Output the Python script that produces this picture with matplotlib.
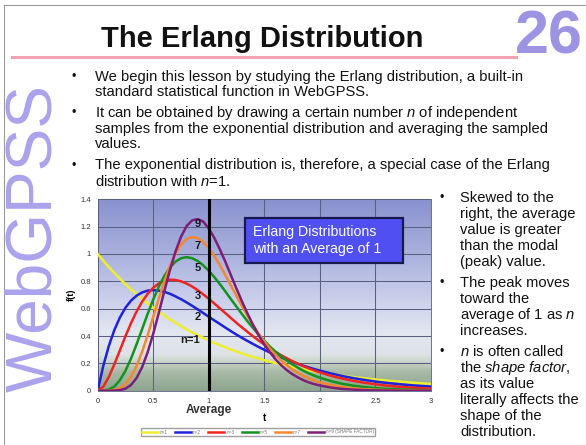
import numpy as np
import matplotlib
matplotlib.use('Agg')
from matplotlib import pyplot as plt
from matplotlib.colors import LinearSegmentedColormap
from matplotlib.patches import Rectangle
from matplotlib.transforms import blended_transform_factory

plt.rcParams['font.family'] = ['Liberation Sans', 'DejaVu Sans']
plt.rcParams['mathtext.fontset'] = 'custom'
plt.rcParams['mathtext.rm'] = 'Liberation Sans'
plt.rcParams['mathtext.it'] = 'Liberation Sans:italic'

# values (finer steps where the curves bend)
t = [0.0, 0.05, 0.1, 0.15, 0.2, 0.25, 0.3, 0.35, 0.4, 0.45, 0.5,
     0.55, 0.6, 0.65, 0.7, 0.75, 0.8, 0.85, 0.9, 0.95, 1.0,
     1.05, 1.1, 1.15, 1.2, 1.25, 1.3, 1.35, 1.4, 1.45, 1.5,
     1.55, 1.6, 1.65, 1.7, 1.75, 1.8, 1.85, 1.9, 1.95, 2.0,
     2.1, 2.2, 2.3, 2.4, 2.5, 2.6, 2.7, 2.8, 2.9, 3.0]
n1 = [1.0, 0.951, 0.905, 0.861, 0.819, 0.779, 0.741, 0.705, 0.670, 0.638, 0.607,
      0.577, 0.549, 0.522, 0.497, 0.472, 0.449, 0.427, 0.407, 0.387, 0.368,
      0.350, 0.333, 0.317, 0.301, 0.287, 0.273, 0.259, 0.247, 0.235, 0.223,
      0.212, 0.202, 0.192, 0.183, 0.174, 0.165, 0.157, 0.150, 0.142, 0.135,
      0.122, 0.111, 0.100, 0.091, 0.082, 0.074, 0.067, 0.061, 0.055, 0.050]
n2 = [0.0, 0.181, 0.327, 0.444, 0.536, 0.607, 0.659, 0.695, 0.719, 0.732, 0.736,
      0.732, 0.723, 0.709, 0.690, 0.669, 0.646, 0.621, 0.595, 0.568, 0.541,
      0.514, 0.488, 0.461, 0.435, 0.410, 0.386, 0.363, 0.341, 0.319, 0.299,
      0.279, 0.261, 0.243, 0.227, 0.211, 0.197, 0.183, 0.170, 0.158, 0.147,
      0.126, 0.108, 0.092, 0.079, 0.067, 0.057, 0.049, 0.041, 0.035, 0.030]
n3 = [0.0, 0.029, 0.100, 0.194, 0.296, 0.399, 0.494, 0.579, 0.651, 0.709, 0.753,
      0.784, 0.803, 0.812, 0.810, 0.800, 0.784, 0.762, 0.735, 0.705, 0.672,
      0.638, 0.602, 0.567, 0.531, 0.496, 0.462, 0.429, 0.397, 0.366, 0.337,
      0.310, 0.284, 0.260, 0.238, 0.217, 0.198, 0.180, 0.163, 0.148, 0.134,
      0.109, 0.089, 0.072, 0.058, 0.047, 0.037, 0.030, 0.024, 0.019, 0.015]
n5 = [0.0, 0.001, 0.008, 0.031, 0.077, 0.146, 0.235, 0.340, 0.451, 0.563, 0.668,
      0.761, 0.840, 0.901, 0.944, 0.969, 0.977, 0.969, 0.949, 0.917, 0.877,
      0.831, 0.779, 0.725, 0.669, 0.614, 0.559, 0.506, 0.456, 0.409, 0.365,
      0.323, 0.286, 0.252, 0.221, 0.194, 0.169, 0.147, 0.127, 0.110, 0.095,
      0.070, 0.051, 0.037, 0.027, 0.019, 0.013, 0.010, 0.007, 0.005, 0.003]
n7 = [0.0, 0.000, 0.001, 0.005, 0.018, 0.049, 0.102, 0.181, 0.285, 0.407, 0.540,
      0.674, 0.800, 0.912, 1.002, 1.068, 1.109, 1.124, 1.116, 1.088, 1.043,
      0.986, 0.918, 0.844, 0.768, 0.692, 0.617, 0.545, 0.478, 0.416, 0.359,
      0.308, 0.263, 0.223, 0.188, 0.157, 0.131, 0.109, 0.090, 0.074, 0.061,
      0.041, 0.027, 0.017, 0.011, 0.007, 0.004, 0.003, 0.002, 0.001, 0.001]
n9 = [0.0, 0.000, 0.000, 0.001, 0.004, 0.015, 0.042, 0.093, 0.172, 0.282, 0.417,
      0.570, 0.729, 0.882, 1.017, 1.126, 1.204, 1.246, 1.255, 1.237, 1.186,
      1.117, 1.033, 0.941, 0.843, 0.745, 0.650, 0.561, 0.478, 0.404, 0.338,
      0.281, 0.230, 0.188, 0.152, 0.122, 0.098, 0.077, 0.061, 0.048, 0.038,
      0.023, 0.013, 0.008, 0.004, 0.002, 0.001, 0.001, 0.000, 0.000, 0.000]

series = [n1, n2, n3, n5, n7, n9]
legend_labels = ['n=1', 'n=2', 'n=3', 'n=5', 'n=7', 'n=9 (SHAPE FACTOR)']
colors = ['#EEEE30', '#1E22DC', '#EE2424', '#14921E', '#F5872E', '#7C1F78']

curve_labels = ['n=1', '2', '3', '5', '7', '9']
label_x = [0.83, 0.90, 0.90, 0.90, 0.90, 0.90]
label_y = [0.37, 0.54, 0.69, 0.90, 1.06, 1.22]

x_ticks = [0, 0.5, 1, 1.5, 2, 2.5, 3]
y_ticks = [0, 0.2, 0.4, 0.6, 0.8, 1, 1.2, 1.4]

left_bullets = [
    ['We begin this lesson by studying the Erlang distribution, a built-in',
     'standard statistical function in WebGPSS.'],
    ['It can be obtained by drawing a certain number $n$ of independent',
     'samples from the exponential distribution and averaging the sampled',
     'values.'],
    ['The exponential distribution is, therefore, a special case of the Erlang',
     'distribution with $n$=1.'],
]
right_bullets = [
    ['Skewed to the', 'right, the average', 'value is greater',
     'than the modal', '(peak) value.'],
    ['The peak moves', 'toward the', 'average of 1 as $n$', 'increases.'],
    ['$n$ is often called', r'the $shape$ $factor$,', 'as its value',
     'literally affects the', 'shape of the', 'distribution.'],
]

W, H = 586, 445
fig = plt.figure(figsize=(W / 100, H / 100), dpi=100)
fig.patch.set_facecolor('white')


def fx(px):
    return px / W


def fy(py):
    return 1 - py / H


# slide frame, title and side decorations
fig.add_artist(plt.Line2D([fx(4), fx(4)], [0, fy(5)], color='#9a9a9a', lw=0.8))
fig.add_artist(plt.Line2D([fx(4), 1], [fy(5), fy(5)], color='#9a9a9a', lw=0.8))
fig.add_artist(plt.Line2D([fx(12), fx(516)], [fy(57), fy(57)], color='#F2A3B3', lw=2.2))
fig.text(fx(262), fy(39), 'The Erlang Distribution', fontsize=21, fontweight='bold',
         ha='center', va='center', color='#111111')
fig.text(fx(549), fy(38), '26', fontsize=44, fontweight='bold', ha='center',
         va='center', color='#9C93E2')
fig.text(fx(34), fy(238), 'WebGPSS', fontsize=46, rotation=90, ha='center',
         va='center', color='#ABA2EC')

# bullet text
y = 77
for lines in left_bullets:
    fig.text(fx(72), fy(y), '•', fontsize=9, ha='left', va='center', color='#111111')
    for line in lines:
        fig.text(fx(95), fy(y), line, fontsize=10.6, ha='left', va='center', color='#111111')
        y += 15.5
    y += 5.5

y = 198
for lines in right_bullets:
    fig.text(fx(440), fy(y), '•', fontsize=9, ha='left', va='center', color='#111111')
    for line in lines:
        fig.text(fx(460), fy(y), line, fontsize=10.6, ha='left', va='center', color='#111111')
        y += 16.1
    y += 4.5

# chart
ax = fig.add_axes([fx(97.7), fy(390.7), fx(431) - fx(97.7), fy(199.3) - fy(390.7)])
cmap = LinearSegmentedColormap.from_list('bg', [
    (0.0, '#8DA48D'), (0.10, '#A9BBA8'), (0.15, '#C9D5CA'), (0.19, '#DDE3E6'),
    (0.30, '#E3E7F1'), (0.45, '#CED4EC'), (0.70, '#ABB2DE'), (1.0, '#8A92CE')])
ax.imshow(np.linspace(0, 1, 256).reshape(-1, 1), extent=[0, 3, 0, 1.4], origin='lower',
          aspect='auto', cmap=cmap, zorder=0)
ax.set_xlim(0, 3)
ax.set_ylim(0, 1.4)
ax.set_xticks(x_ticks, [f'{v:g}' for v in x_ticks])
ax.set_yticks(y_ticks, [f'{v:g}' for v in y_ticks])
ax.tick_params(labelsize=5.5, length=0, pad=5, colors='#333333')
ax.grid(True, color='#5A6080', lw=0.75)
ax.set_axisbelow(False)
for s in ax.spines.values():
    s.set_color('#6E7390')
    s.set_linewidth(0.7)

for vals, c, lab in zip(series, colors, legend_labels):
    ax.plot(t, vals, color=c, lw=1.8, label=lab, zorder=3, solid_joinstyle='round')

ax.axvline(1, color='black', lw=2.2, zorder=4)

for lab, lx, ly in zip(curve_labels, label_x, label_y):
    ax.text(lx, ly, lab, fontsize=8, fontweight='bold', ha='center', va='center',
            color='#1a1a1a', zorder=5)

ax.add_patch(Rectangle((1.326, 0.934), 2.75 - 1.326, 1.263 - 0.934, facecolor='#4F4FF2',
                       edgecolor='#161A4E', lw=1.6, zorder=6))
ax.text(1.40, 1.098, 'Erlang Distributions\nwith an Average of 1', fontsize=10.2,
        color='white', ha='left', va='center', linespacing=1.2, zorder=7)

ax.set_ylabel('f(t)', fontsize=6.5, fontweight='bold', labelpad=3)
ax.set_xlabel('t', fontsize=7, fontweight='bold', labelpad=6)
trans = blended_transform_factory(ax.transData, ax.transAxes)
ax.text(1.0, -0.10, 'Average', transform=trans, fontsize=8.5, fontweight='bold',
        ha='center', va='center', color='#333333')

ax.legend(loc='center', bbox_to_anchor=(fx(258), fy(432)), bbox_transform=fig.transFigure,
          ncol=6, fontsize=3.3, frameon=True, fancybox=False, edgecolor='#888888',
          handlelength=3.5, handletextpad=0.4, columnspacing=1.6, borderpad=0.3,
          labelcolor='#777777')

plt.savefig('out.png', dpi=100)
